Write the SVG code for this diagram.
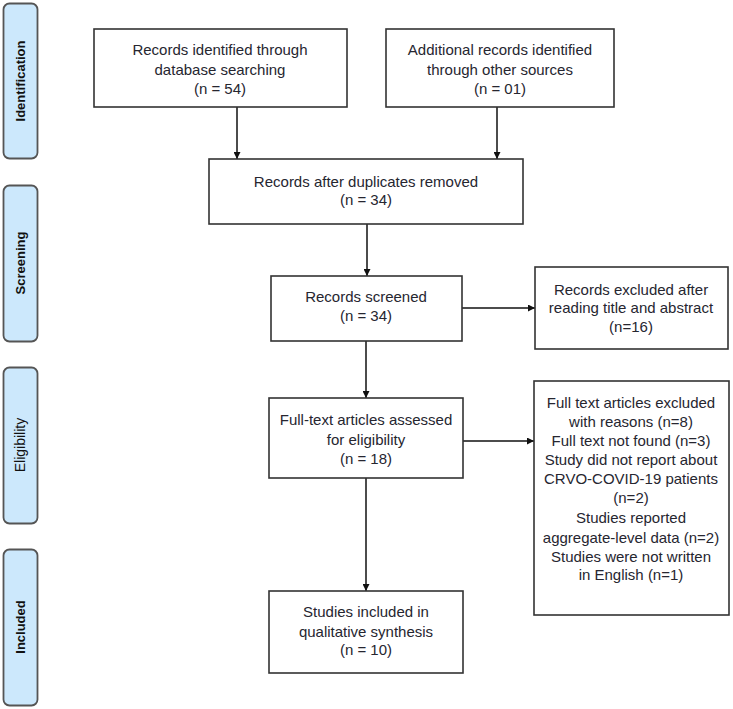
<svg xmlns="http://www.w3.org/2000/svg" width="733" height="709" viewBox="0 0 733 709">
<style>
.box{fill:#ffffff;stroke:#333333;stroke-width:1.6}
.side{fill:#cce8fc;stroke:#555555;stroke-width:1.8}
.t{font-family:"Liberation Sans",Arial,sans-serif;font-size:15px;fill:#262630;text-anchor:middle}
.s{font-family:"Liberation Sans",Arial,sans-serif;font-size:13px;font-weight:bold;fill:#111111;text-anchor:middle}
.c{stroke:#111111;stroke-width:1.5;fill:none;marker-end:url(#ah)}
</style>
<defs>
<marker id="ah" viewBox="0 0 10 10" refX="10" refY="5" markerWidth="7" markerHeight="7" markerUnits="userSpaceOnUse" orient="auto">
<path d="M0,0 L10,5 L0,10 Z" fill="#111111"/>
</marker>
</defs>
<rect width="733" height="709" fill="#ffffff"/>
<g id="side-identification">
<rect class="side" x="3.5" y="3.5" width="34" height="155" rx="6"/>
<text class="s" transform="translate(25,81) rotate(-90)">Identification</text>
</g>
<g id="side-screening">
<rect class="side" x="3.5" y="185.5" width="34" height="156" rx="6"/>
<text class="s" transform="translate(25,263) rotate(-90)">Screening</text>
</g>
<g id="side-eligibility">
<rect class="side" x="3.5" y="367.5" width="34" height="156" rx="6"/>
<text class="s" style="font-weight:normal;font-size:14px" transform="translate(25,445) rotate(-90)">Eligibility</text>
</g>
<g id="side-included">
<rect class="side" x="3.5" y="549.5" width="34" height="156" rx="6"/>
<text class="s" transform="translate(25,627) rotate(-90)">Included</text>
</g>
<g id="connectors">
<line class="c" x1="237" y1="107" x2="237" y2="159"/>
<line class="c" x1="497" y1="107" x2="497" y2="159"/>
<line class="c" x1="367" y1="224" x2="367" y2="276"/>
<line class="c" x1="462" y1="308" x2="535" y2="308"/>
<line class="c" x1="366" y1="341" x2="366" y2="398"/>
<line class="c" x1="463" y1="441" x2="534" y2="441"/>
<line class="c" x1="366" y1="478" x2="366" y2="591"/>
</g>
<g id="records-identified">
<rect class="box" x="94" y="29" width="253" height="78"/>
<text class="t" x="220" y="55">Records identified through</text>
<text class="t" x="220" y="75">database searching</text>
<text class="t" x="220" y="94">(n = 54)</text>
</g>
<g id="additional-records">
<rect class="box" x="386" y="29" width="228" height="78"/>
<text class="t" x="500" y="55">Additional records identified</text>
<text class="t" x="500" y="75">through other sources</text>
<text class="t" x="500" y="94">(n = 01)</text>
</g>
<g id="duplicates-removed">
<rect class="box" x="209" y="159" width="314" height="65"/>
<text class="t" x="366" y="187">Records after duplicates removed</text>
<text class="t" x="366" y="205">(n = 34)</text>
</g>
<g id="records-screened">
<rect class="box" x="271" y="276" width="191" height="65"/>
<text class="t" x="366" y="302">Records screened</text>
<text class="t" x="366" y="321">(n = 34)</text>
</g>
<g id="records-excluded">
<rect class="box" x="535" y="267" width="193" height="82"/>
<text class="t" x="631" y="295">Records excluded after</text>
<text class="t" x="631" y="313">reading title and abstract</text>
<text class="t" x="631" y="332">(n=16)</text>
</g>
<g id="full-text-assessed">
<rect class="box" x="269" y="398" width="194" height="80"/>
<text class="t" x="366" y="425">Full-text articles assessed</text>
<text class="t" x="366" y="445">for eligibility</text>
<text class="t" x="366" y="464">(n = 18)</text>
</g>
<g id="full-text-excluded">
<rect class="box" x="534" y="381" width="195" height="234"/>
<text class="t" x="631" y="408">Full text articles excluded</text>
<text class="t" x="631" y="427">with reasons (n=8)</text>
<text class="t" x="631" y="446">Full text not found (n=3)</text>
<text class="t" x="631" y="465">Study did not report about</text>
<text class="t" x="631" y="484">CRVO-COVID-19  patients</text>
<text class="t" x="631" y="503">(n=2)</text>
<text class="t" x="631" y="523">Studies reported</text>
<text class="t" x="631" y="543">aggregate-level data (n=2)</text>
<text class="t" x="631" y="562">Studies were not written</text>
<text class="t" x="631" y="580">in English (n=1)</text>
</g>
<g id="studies-included">
<rect class="box" x="269" y="591" width="194" height="82"/>
<text class="t" x="366" y="617">Studies included in</text>
<text class="t" x="366" y="637">qualitative synthesis</text>
<text class="t" x="366" y="655">(n = 10)</text>
</g>
</svg>
